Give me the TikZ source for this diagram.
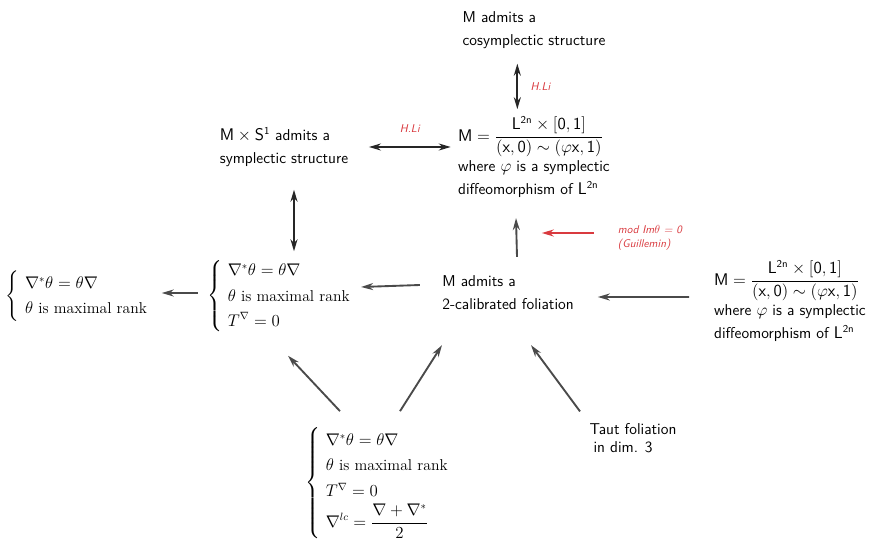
\documentclass[tikz,border=0pt]{standalone}
\usepackage{amsmath}
\usetikzlibrary{positioning,arrows.meta}

\definecolor{arrgray}{HTML}{4A4A4A}
\definecolor{notered}{HTML}{D93A3F}

\tikzset{
  txt/.style={align=left,font=\fontsize{13.4}{19.6}\selectfont\sffamily},
  sys/.style={font=\fontsize{13.4}{16.2}\selectfont},
  note/.style={align=left,text=notered,font=\fontsize{9.6}{12.5}\selectfont\sffamily\itshape},
  arr/.style={-{Stealth[length=3.6mm,width=2.1mm]},line width=1.6pt,draw=arrgray},
  dbl/.style={{Stealth[length=3.6mm,width=2.1mm]}-{Stealth[length=3.6mm,width=2.1mm]},line width=1.6pt,draw=black!85},
}
\newcommand{\quotM}{$\mathsf{M}=\dfrac{\mathsf{L}^{\mathsf{2n}}\times[\mathsf{0},\mathsf{1}]}{(\mathsf{x},\mathsf{0})\sim(\varphi\mathsf{x},\mathsf{1})}$\\[2pt]
  where $\varphi$ is a symplectic\\ diffeomorphism of $\mathsf{L}^{\mathsf{2n}}$}

\begin{document}
\begin{tikzpicture}
      \useasboundingbox (0,0) rectangle (26.1,-16.26);

      \node[txt] (1) at (15.24,-8.79) {M admits a\\2-calibrated foliation};
      \node[sys,left of=1,xshift=-5.78cm,yshift=-0.09cm] (2)
        {$\left\{\renewcommand{\arraystretch}{1.32}\begin{array}{l}
          \nabla^*\theta=\theta\nabla\\ \theta\text{ is maximal rank}\\ T^{\nabla}=0
        \end{array}\right.$};
      \node[sys,left of=2,xshift=-5.06cm] (3)
        {$\left\{\renewcommand{\arraystretch}{1.32}\begin{array}{l}
          \nabla^*\theta=\theta\nabla\\ \theta\text{ is maximal rank}
        \end{array}\right.$};
      \node[txt,right of=1,xshift=7.46cm,yshift=-0.24cm] (4) {\quotM};
      \node[txt,above of=1,xshift=0.78cm,yshift=3.08cm] (5) {\quotM};
      \node[txt,above of=5,yshift=2.81cm] (6) {M admits a\\cosymplectic structure};
      \node[txt,left of=5,xshift=-6.5cm,yshift=0.3cm] (7) {$\mathsf{M}\times\mathsf{S}^{\mathsf{1}}$ admits a\\symplectic structure};
      \node[sys,below of=1,xshift=-3.84cm,yshift=-4.7cm] (8)
        {$\left\{\renewcommand{\arraystretch}{1.35}\begin{array}{l}
          \nabla^*\theta=\theta\nabla\\ \theta\text{ is maximal rank}\\ T^{\nabla}=0\\
          \nabla^{lc}=\dfrac{\nabla+\nabla^*}{2}
        \end{array}\right.$};
      \node[txt,font=\fontsize{13.4}{15}\selectfont\sffamily,below of=1,xshift=3.75cm,yshift=-3.35cm] (9) {Taut foliation\\\hspace{0.25em}in dim. 3};
      \node[note,right of=1,xshift=3.26cm,yshift=1.65cm] (10) {mod Im$\theta$ = 0\\(Guillemin)};

      \draw[arr] ([xshift=-0.55cm,yshift=0.24cm]1.west) -- ([yshift=0.27cm]2.east);
      \draw[arr] ([xshift=-0.15cm,yshift=0.09cm]2.west) -- ([xshift=0.1cm,yshift=0.09cm]3.east);
      \draw[arr] ([xshift=-0.63cm,yshift=0.12cm]4.west) -- ([xshift=0.6cm,yshift=-0.12cm]1.east);
      \draw[arr] ([xshift=0.27cm,yshift=0.45cm]1.north) -- ([xshift=-0.54cm,yshift=-0.5cm]5.south);
      \draw[arr,draw=notered] ([xshift=-0.6cm,yshift=0.15cm]10.west) -- ([xshift=-2.16cm,yshift=0.15cm]10.west);
      \draw[arr] ([xshift=-1.2cm,yshift=0.36cm]8.north) -- ([xshift=0.18cm,yshift=-0.54cm]2.south);
      \draw[arr] ([xshift=0.6cm,yshift=0.36cm]8.north) -- ([xshift=-1.98cm,yshift=-0.93cm]1.south);
      \draw[arr] ([xshift=-1.59cm,yshift=0.24cm]9.north) -- ([xshift=0.69cm,yshift=-0.93cm]1.south);

      \draw[dbl] ([xshift=0.5cm]7.east) -- node[note,above=0.3cm] {H.Li} ([xshift=-0.1cm]7.east -| 5.west);
      \draw[dbl] ([xshift=-0.5cm,yshift=-0.33cm]6.south) -- node[note,right=0.25cm] {H.Li} ([xshift=-0.5cm,yshift=0.1cm]5.north);
      \draw[dbl] ([xshift=0.3cm,yshift=-0.57cm]7.south) -- ([xshift=0.36cm,yshift=0.09cm]2.north);
    \end{tikzpicture}
\end{document}
